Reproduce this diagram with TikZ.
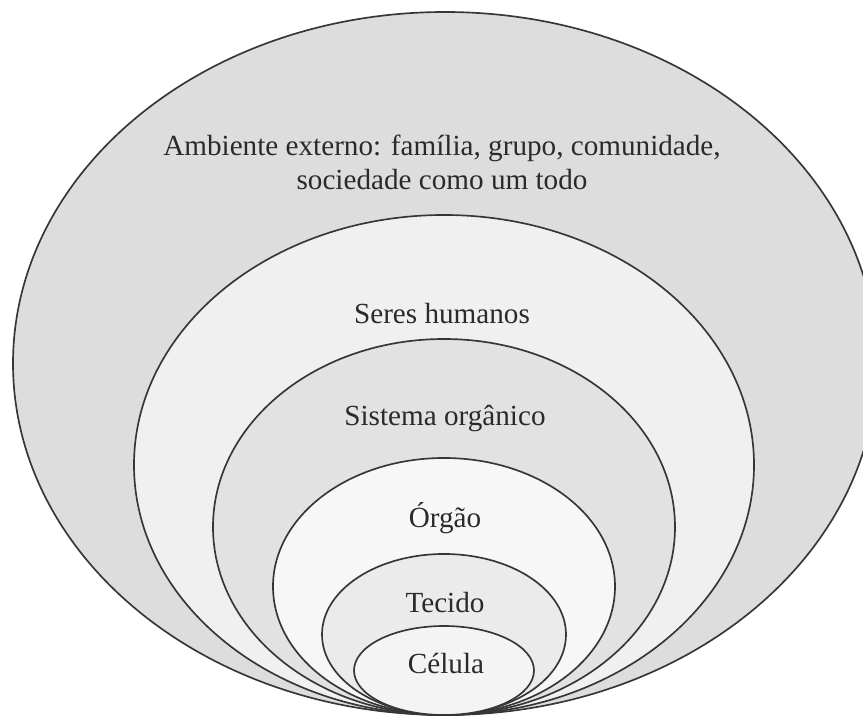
\documentclass[tikz,border=0pt]{standalone}
\usepackage{fontspec}
\setmainfont{Liberation Serif}
\usepackage{xcolor}
\usepackage{tikz}
\definecolor{RimGray}{HTML}{363636}
\definecolor{TextGray}{HTML}{2A2A2A}
\definecolor{OuterFill}{HTML}{DDDDDD}
\definecolor{HumanFill}{HTML}{F0F0F0}
\definecolor{SystemFill}{HTML}{E2E2E2}
\definecolor{OrganFill}{HTML}{F7F7F7}
\definecolor{TissueFill}{HTML}{EBEBEB}
\definecolor{CellFill}{HTML}{F4F4F4}
\tikzset{
  layer/.style={
    draw=RimGray,line width=0.95pt
  },
  lvlabel/.style={
    font=\fontsize{16.6}{19}\selectfont\color{TextGray},
    align=center,inner sep=0pt
  },
}
\begin{document}
\begin{tikzpicture}
  \useasboundingbox (0,0) rectangle (17.26,14.32);
  \draw[layer, fill=OuterFill]  (8.90,7.05) ellipse [x radius=8.64, y radius=7.03];
  \draw[layer, fill=HumanFill]  (8.88,5.02) ellipse [x radius=6.20, y radius=5.00];
  \draw[layer, fill=SystemFill] (8.88,3.78) ellipse [x radius=4.62, y radius=3.76];
  \draw[layer, fill=OrganFill]  (8.88,2.59) ellipse [x radius=3.42, y radius=2.57];
  \draw[layer, fill=TissueFill] (8.88,1.63) ellipse [x radius=2.44, y radius=1.61];
  \draw[layer, fill=CellFill]   (8.88,0.91) ellipse [x radius=1.80, y radius=0.89];
  \node[lvlabel] (ambiente) at (8.84,11.07) {Ambiente externo: família, grupo, comunidade,\\sociedade como um todo};
  \node[lvlabel] (seres)    at (8.84, 8.04) {Seres humanos};
  \node[lvlabel] (sistema)  at (8.90, 5.94) {Sistema orgânico};
  \node[lvlabel] (orgao)    at (8.90, 3.96) {Órgão};
  \node[lvlabel] (tecido)   at (8.90, 2.26) {Tecido};
  \node[lvlabel] (celula)   at (8.92, 1.04) {Célula};
\end{tikzpicture}
\end{document}
